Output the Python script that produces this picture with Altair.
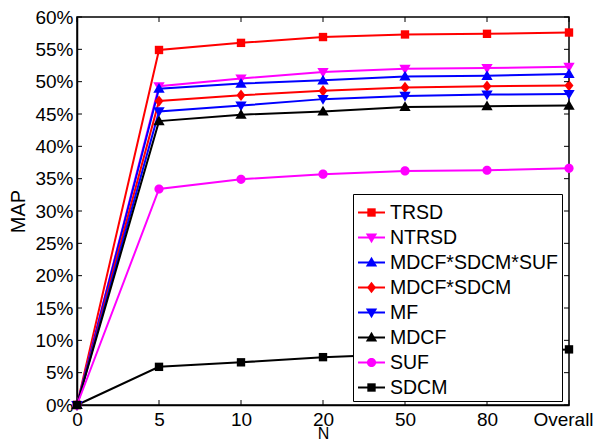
import altair as alt
import pandas as pd

# ---- data ----
n_labels = ["0", "5", "10", "20", "50", "80", "Overall"]
series = ["TRSD", "NTRSD", "MDCF*SDCM*SUF", "MDCF*SDCM", "MF", "MDCF", "SUF", "SDCM"]
colors = ["#ff0000", "#ff00ff", "#0000ff", "#ff0000", "#0000ff", "#000000", "#ff00ff", "#000000"]

trsd = [0, 54.9, 56.0, 56.9, 57.3, 57.4, 57.6]
ntrsd = [0, 49.3, 50.5, 51.5, 52.0, 52.1, 52.3]
mdcf_sdcm_suf = [0, 48.9, 49.7, 50.2, 50.8, 50.9, 51.2]
mdcf_sdcm = [0, 47.0, 47.9, 48.6, 49.1, 49.3, 49.4]
mf = [0, 45.4, 46.3, 47.3, 47.8, 48.0, 48.1]
mdcf = [0, 43.9, 44.9, 45.4, 46.1, 46.2, 46.3]
suf = [0, 33.4, 34.9, 35.7, 36.2, 36.3, 36.6]
sdcm = [0, 5.9, 6.6, 7.4, 7.9, 8.2, 8.6]

y_ticks = [0, 5, 10, 15, 20, 25, 30, 35, 40, 45, 50, 55, 60]

values = [trsd, ntrsd, mdcf_sdcm_suf, mdcf_sdcm, mf, mdcf, suf, sdcm]

# marker paths (unit square [-1,1], scaled by sqrt(size)/2)
sq = "M-0.31,-0.31H0.31V0.31H-0.31Z"
tri_up = "M0,-0.42L0.42,0.30L-0.42,0.30Z"
tri_dn = "M0,0.42L0.42,-0.30L-0.42,-0.30Z"
diamond = "M0,-0.42L0.33,0L0,0.42L-0.33,0Z"
circle = "M0.34,0A0.34,0.34,0,1,1,-0.34,0A0.34,0.34,0,1,1,0.34,0Z"
shapes = [sq, tri_dn, tri_up, diamond, tri_dn, tri_up, circle, sq]

rows = []
for s, vals in zip(series, values):
    for i, (n, v) in enumerate(zip(n_labels, vals)):
        rows.append({"series": s, "N": n, "idx": i, "value": v})
df = pd.DataFrame(rows)
ytdf = pd.DataFrame({"value": y_ticks})
xtdf = pd.DataFrame({"N": n_labels})

W, H = 492, 388
FONT = "Liberation Sans"

xscale = alt.Scale(type="point", padding=0, domain=n_labels)
yscale = alt.Scale(domain=[0, 60], nice=False, zero=True)

x_axis = alt.Axis(
    title="N", labelAngle=0, labelPadding=5, labelLimit=0,
    labelOffset={"condition": {"test": "datum.label == 'Overall'", "value": -6}, "value": 0},
    titleFontSize=16, titleBaseline="alphabetic", titleY=33.5,
)
y_axis = alt.Axis(title="MAP", values=y_ticks, labelExpr="datum.value + '%'",
                  labelPadding=4, titlePadding=6)

x_enc = alt.X("N:N", sort=n_labels, scale=xscale, axis=x_axis)
y_enc = alt.Y("value:Q", scale=yscale, axis=y_axis)

leg_common = dict(orient="none", legendX=276, legendY=177, title=None,
                  direction="vertical", labelFont=FONT, labelFontSize=19.5,
                  symbolSize=729, symbolStrokeWidth=2, padding=4, labelOffset=4,
                  rowPadding=1, labelColor="black", labelLimit=0)

line_legend = alt.Legend(symbolType="stroke", strokeColor="black", fillColor="white",
                         **leg_common)
pt_legend = alt.Legend(labelOpacity=0, **leg_common)

color_scale = alt.Scale(domain=series, range=colors)

lines = alt.Chart(df).mark_line(strokeWidth=2).encode(
    x=x_enc, y=y_enc,
    color=alt.Color("series:N", sort=series, scale=color_scale, legend=line_legend),
    order=alt.Order("idx:Q"),
)

points = alt.Chart(df).mark_point(filled=True, size=729, opacity=1, strokeWidth=0).encode(
    x=x_enc, y=y_enc,
    color=alt.Color("series:N", sort=series, scale=color_scale, legend=pt_legend),
    shape=alt.Shape("series:N", sort=series, scale=alt.Scale(domain=series, range=shapes),
                    legend=pt_legend),
)

ytick_l = alt.Chart(ytdf).mark_rule(color="black", strokeWidth=1).encode(
    y=y_enc, x=alt.value(0), x2=alt.value(5))
ytick_r = alt.Chart(ytdf).mark_rule(color="black", strokeWidth=1).encode(
    y=y_enc, x=alt.value(W - 5), x2=alt.value(W))
xtick_b = alt.Chart(xtdf).mark_rule(color="black", strokeWidth=1).encode(
    x=x_enc, y=alt.value(H - 5), y2=alt.value(H))
xtick_t = alt.Chart(xtdf).mark_rule(color="black", strokeWidth=1).encode(
    x=x_enc, y=alt.value(0), y2=alt.value(5))

chart = alt.layer(lines, points, ytick_l, ytick_r, xtick_b, xtick_t).resolve_scale(
    color="independent", shape="independent"
).properties(
    width=W, height=H,
    autosize=alt.AutoSizeParams(type="none"),
    padding={"left": 69, "top": 9, "right": 25, "bottom": 34},
    background="white",
).configure_view(
    stroke="black", strokeWidth=1.5
).configure_axis(
    domainColor="black", domainWidth=1.5, grid=False, ticks=False, tickSize=0,
    labelFont=FONT, labelFontSize=19, labelColor="black",
    titleFont=FONT, titleFontSize=20, titleFontWeight="normal", titleColor="black",
)

chart.save("out.html", embed_options={"renderer": "svg", "actions": False})
